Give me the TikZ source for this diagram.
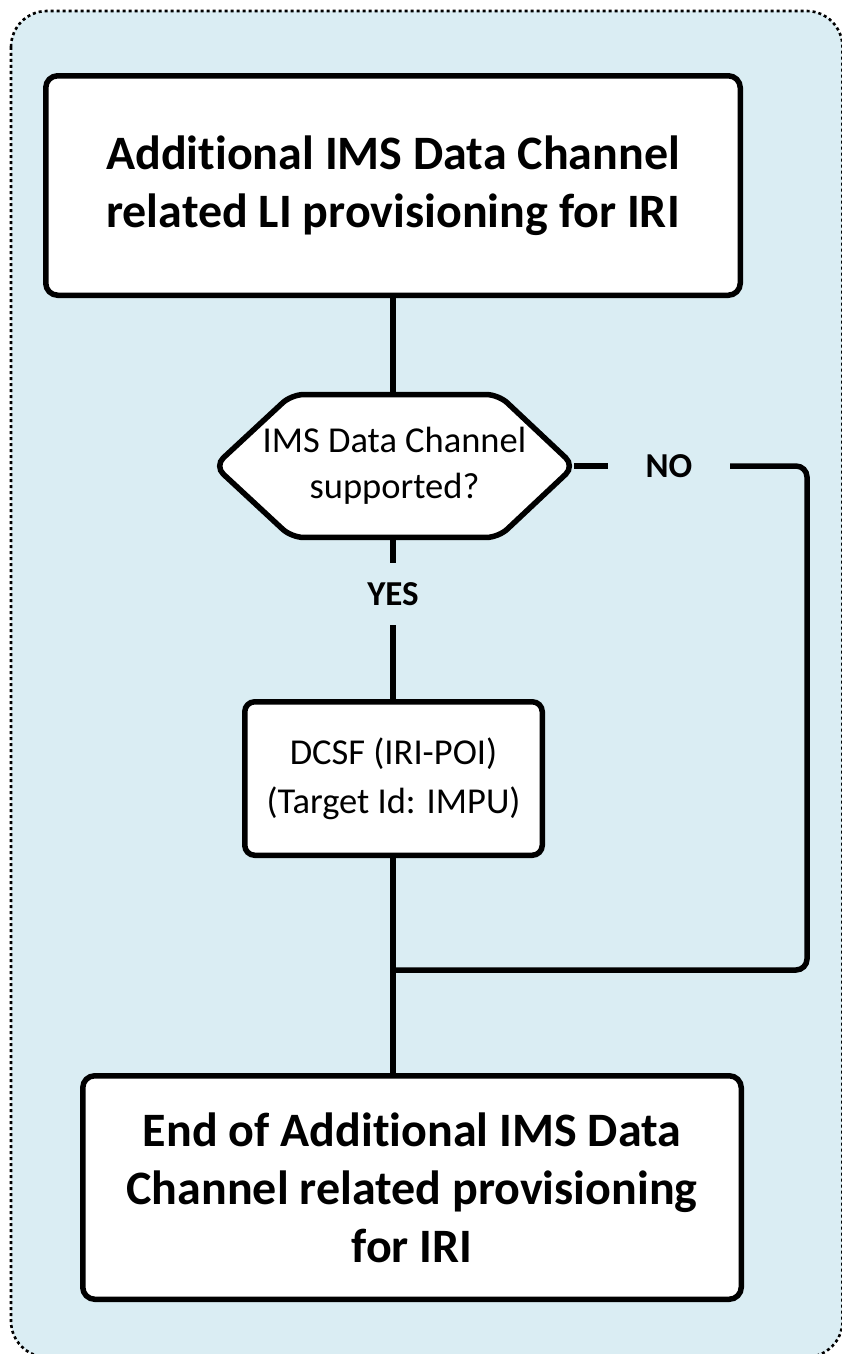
\documentclass[tikz,border=0pt]{standalone}
\usepackage{fontspec}
\setmainfont[Ligatures=NoCommon, Contextuals=NoAlternate, RawFeature={-liga;-clig;-dlig}]{Carlito}
\definecolor{bgblue}{HTML}{DAEDF3}
\begin{document}
\begin{tikzpicture}[x=1pt,y=-1pt,
  box/.style={draw=black, line width=5.5pt, fill=white, rounded corners=12pt, inner sep=0pt, align=center},
  bigbox/.style={box, font=\fontsize{48}{58}\selectfont\bfseries},
  smallbox/.style={box, rounded corners=10pt, font=\fontsize{36.5}{49}\selectfont},
  hexarea/.style={inner sep=0pt, draw=none},
  hexshape/.style={draw=black, line width=5.5pt, fill=white, rounded corners=12pt},
  hextext/.style={align=center, inner sep=0pt, font=\fontsize{36.5}{46}\selectfont},
  answer/.style={inner sep=0pt, font=\fontsize{35}{40}\selectfont\bfseries},
  conn/.style={draw=black, line width=5.5pt},
  frame/.style={draw=black, line width=2.6pt, dash pattern=on 3pt off 3pt, fill=bgblue, rounded corners=36pt}
]
\useasboundingbox (0,0) rectangle (842,1354);
\path[frame] (11,11) rectangle (842.5,1357);

% top box
\node[bigbox, minimum width=694.5pt, minimum height=219.5pt] (top) at (393,185.5)
  {Additional IMS Data Channel\\related LI provisioning for IRI};

% decision hexagon
\node[hexarea, minimum width=359.5pt, minimum height=142.5pt] (hex) at (394.5,466) {};
\draw[hexshape] (hex.west) -- ([xshift=77pt]hex.north west) -- ([xshift=-76pt]hex.north east)
  -- (hex.east) -- ([xshift=-76pt]hex.south east) -- ([xshift=77pt]hex.south west) -- cycle;
\node[hextext] (hexlabel) at (hex.center) {IMS Data Channel\\supported?};

% labels
\node[answer, minimum height=62pt] (yes) at (393,594) {YES};
\node[answer, minimum width=122pt, minimum height=30pt] (no) at (669,466) {NO};

% DCSF box
\node[smallbox, minimum width=297.5pt, minimum height=153.5pt] (dcsf) at (393.5,778.5)
  {DCSF (IRI-POI)\\(Target Id: IMPU)};

% end box
\node[bigbox, minimum width=658.5pt, minimum height=223.5pt] (endbox) at (412,1187.5)
  {End of Additional IMS Data\\Channel related provisioning\\for IRI};

\coordinate (nr) at (807,466);
\coordinate (join) at (393,970);

% connectors
\draw[conn] (top.south) -- (top.south |- hex.north);
\draw[conn] (hex.south -| yes.north) -- (yes.north);
\draw[conn] (yes.south) -- (dcsf.north -| yes.south);
\draw[conn] (dcsf.south -| join) -- (join |- endbox.north);
\draw[conn] (hex.east) -- (no.west);
\draw[conn, rounded corners=11pt] (no.east) -- (nr) |- (join);
\end{tikzpicture}
\end{document}
